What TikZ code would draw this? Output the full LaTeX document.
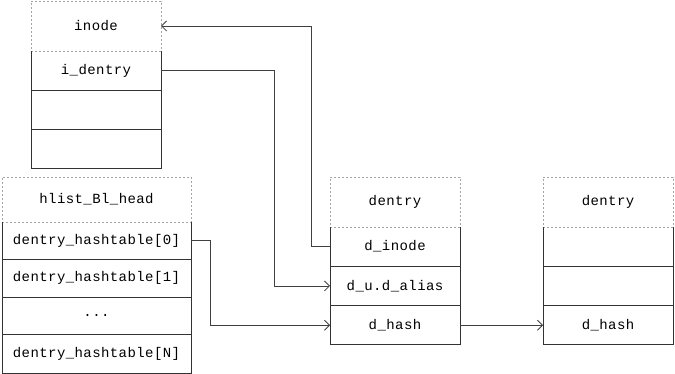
\documentclass[tikz,border=0pt]{standalone}
\usepackage{fontspec}
\setmainfont[LetterSpace=3]{Liberation Mono}
\usetikzlibrary{positioning,arrows.meta}

\begin{document}
\begin{tikzpicture}[x=1pt,y=-1pt,font=\fontsize{14}{16}\selectfont]
		\tikzset{hdr/.style={draw=gray!70,dashed,dash pattern=on 2pt off 2pt,minimum width=#1,minimum height=50pt,inner sep=0pt,outer sep=0pt},
			cell/.style={minimum width=#1,minimum height=39.3pt,inner sep=0pt,outer sep=0pt},
			box/.style={line width=0.9pt,black!80},
			ptr/.style={line width=0.8pt,black!75,-{Straight Barb[length=5pt,width=10pt]}}}
		\useasboundingbox (0,0) rectangle (675,374);
		% inode
		\node[hdr=130pt] (inode) at (96,26) {inode};
		\node[cell=130pt,below=0 of inode] (ident) {i\_dentry};
		\node[cell=130pt,below=0 of ident] (ia) {};
		\node[cell=130pt,below=0 of ia] (ib) {};
		\draw[box] (inode.south west) -- (ib.south west) -- (ib.south east) -- (inode.south east);
		\foreach \c in {ident,ia} \draw[box] (\c.south west) -- (\c.south east);
		% hash table heads
		\node[hdr=189pt,minimum height=45pt] (hlist) at (96.5,199.5) {hlist\_Bl\_head};
		\node[cell=189pt,minimum height=37.5pt,below=0 of hlist] (ht0) {dentry\_hashtable[0]};
		\node[cell=189pt,minimum height=37.5pt,below=0 of ht0] (ht1) {dentry\_hashtable[1]};
		\node[cell=189pt,minimum height=37.5pt,below=0 of ht1] (htd) {...};
		\node[cell=189pt,minimum height=38.5pt,below=0 of htd] (htn) {dentry\_hashtable[N]};
		\draw[box] (hlist.south west) -- (htn.south west) -- (htn.south east) -- (hlist.south east);
		\foreach \c in {ht0,ht1,htd} \draw[box] (\c.south west) -- (\c.south east);
		% first dentry
		\node[hdr=130pt] (dent) at (395,202) {dentry};
		\node[cell=130pt,below=0 of dent] (dino) {d\_inode};
		\node[cell=130pt,below=0 of dino] (dalias) {d\_u.d\_alias};
		\node[cell=130pt,below=0 of dalias] (dhash) {d\_hash};
		\draw[box] (dent.south west) -- (dhash.south west) -- (dhash.south east) -- (dent.south east);
		\foreach \c in {dino,dalias} \draw[box] (\c.south west) -- (\c.south east);
		% second dentry
		\node[hdr=130pt] (dentb) at (608,202) {dentry};
		\node[cell=130pt,below=0 of dentb] (db1) {};
		\node[cell=130pt,below=0 of db1] (db2) {};
		\node[cell=130pt,below=0 of db2] (dhashb) {d\_hash};
		\draw[box] (dentb.south west) -- (dhashb.south west) -- (dhashb.south east) -- (dentb.south east);
		\foreach \c in {db1,db2} \draw[box] (\c.south west) -- (\c.south east);
		% pointers
		\draw[ptr] (dino.west) -- ++(-19,0) |- (inode.east);
		\draw[ptr] (ident.east) -- ++(113,0) |- (dalias.west);
		\draw[ptr] (ht0.east) -- ++(19,0) |- (dhash.west);
		\draw[ptr] (dhash.east) -- (dhashb.west);
	\end{tikzpicture}
\end{document}
